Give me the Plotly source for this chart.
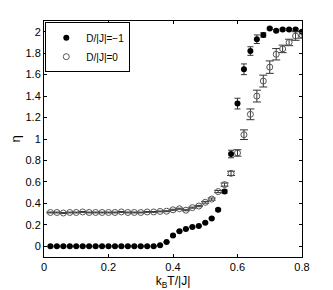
import plotly.graph_objects as go

T = [round(0.02 * i, 2) for i in range(1, 41)]

eta_m1 = [0.0] * 17 + [0.01, 0.04, 0.10, 0.14, 0.16, 0.18, 0.19, 0.22, 0.26, 0.34,
                       0.51, 0.86, 1.33, 1.65, 1.82, 1.93, 1.97, 2.03, 2.01, 2.02,
                       2.02, 2.02, 2.00]
err_m1 = [0.005] * 17 + [0.005, 0.005, 0.005, 0.005, 0.005, 0.005, 0.005, 0.005, 0.005, 0.01,
                         0.015, 0.035, 0.05, 0.05, 0.04, 0.04, 0.02, 0.01, 0.01, 0.01,
                         0.01, 0.01, 0.01]

eta_0 = [0.315, 0.315, 0.31, 0.315, 0.315, 0.32, 0.315, 0.315, 0.315, 0.315,
         0.315, 0.32, 0.315, 0.315, 0.315, 0.32, 0.32,
         0.325, 0.327, 0.34, 0.35, 0.336, 0.36, 0.375, 0.41, 0.44, 0.51,
         0.575, 0.68, 0.87, 1.04, 1.23, 1.40, 1.54, 1.67, 1.79, 1.84,
         1.90, 1.96, 1.97]
err_0 = [0.004] * 17 + [0.004, 0.004, 0.005, 0.005, 0.005, 0.005, 0.006, 0.008, 0.01, 0.01,
                        0.015, 0.02, 0.03, 0.045, 0.05, 0.055, 0.055, 0.058, 0.053, 0.035,
                        0.03, 0.04, 0.03]

x_ticks = [0, 0.2, 0.4, 0.6, 0.8]
y_ticks = [0, 0.2, 0.4, 0.6, 0.8, 1, 1.2, 1.4, 1.6, 1.8, 2]

FONT = "Liberation Sans, Arial"

fig = go.Figure()
fig.add_trace(go.Scatter(
    x=T, y=eta_m1, mode="markers", name="D/|J|=\u22121",
    marker=dict(symbol="circle", size=6, color="black"),
    error_y=dict(type="data", array=err_m1, color="#333", thickness=1, width=3),
))
fig.add_trace(go.Scatter(
    x=T, y=eta_0, mode="markers", name="D/|J|=0",
    marker=dict(symbol="circle-open", size=6, color="#555", line=dict(width=1)),
    error_y=dict(type="data", array=err_0, color="#333", thickness=1, width=4),
))

axis_common = dict(
    showline=True, linecolor="black", linewidth=1, mirror="ticks",
    ticks="inside", ticklen=3, tickcolor="black", showgrid=False, zeroline=False,
    automargin=False,
    tickfont=dict(family=FONT, size=11, color="black"),
)
fig.update_xaxes(range=[0, 0.8], tickvals=x_ticks, ticktext=[str(v) for v in x_ticks],
                 title=dict(text="k<sub>B</sub>T/|J|", standoff=5,
                            font=dict(family=FONT, size=12, color="black")),
                 **axis_common)
fig.update_yaxes(range=[-0.1, 2.1], tickvals=y_ticks, ticktext=[str(v) for v in y_ticks],
                 title=dict(text="\u03b7", standoff=9,
                            font=dict(family=FONT, size=13, color="black")),
                 **axis_common)
# page body has an 8px default margin; compensate so the plot area lands at 44..302 x 21..257
fig.update_layout(
    width=325, height=282,
    margin=dict(l=36, r=31, t=13, b=33),
    paper_bgcolor="white", plot_bgcolor="white",
    showlegend=True,
    legend=dict(x=0.005, y=0.995, xanchor="left", yanchor="top",
                bgcolor="white", bordercolor="black", borderwidth=1,
                font=dict(family=FONT, size=10, color="black"),
                tracegroupgap=0, itemwidth=30),
)
fig.write_html("out.html")
